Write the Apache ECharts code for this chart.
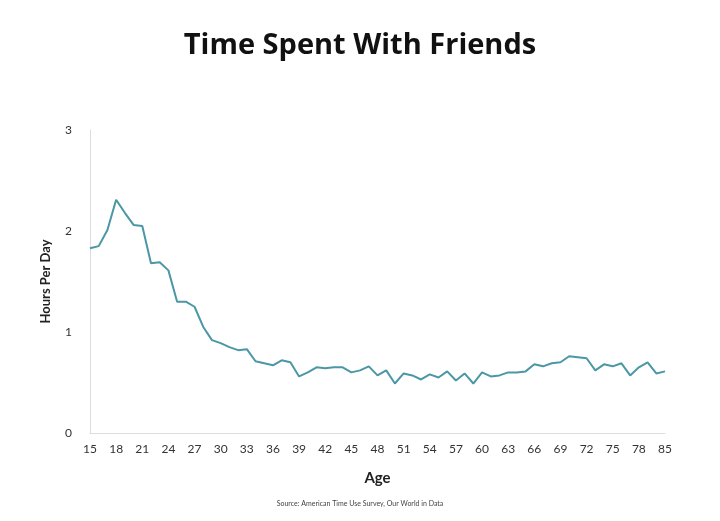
<!DOCTYPE html>
<html><head><meta charset="utf-8">
<script src="https://cdn.jsdelivr.net/npm/echarts@6/dist/echarts.min.js"></script>
<style>html,body{margin:0;background:#fff}#c{width:720px;height:521px}</style>
</head><body><div id="c"></div>
<script>
const ages = [];
for (let a = 15; a <= 80; a++) ages.push(String(a));
ages.push('85');
const hours = [1.83,1.85,2.01,2.31,2.18,2.06,2.05,1.68,1.69,1.61,1.30,1.30,1.25,1.05,0.92,0.89,0.85,0.82,0.83,0.71,0.69,0.67,0.72,0.70,0.56,0.60,0.65,0.64,0.65,0.65,0.60,0.62,0.66,0.57,0.62,0.49,0.59,0.57,0.53,0.58,0.55,0.61,0.52,0.59,0.49,0.60,0.56,0.57,0.60,0.60,0.61,0.68,0.66,0.69,0.70,0.76,0.75,0.74,0.62,0.68,0.66,0.69,0.57,0.65,0.70,0.59,0.61];
const yTicks = [0,1,2,3];
const font = 'Lato, "Open Sans", sans-serif';
const chart = echarts.init(document.getElementById('c'));
chart.setOption({
  backgroundColor:'#fff',
  title:[
    {text:'Time Spent With Friends',left:'center',top:26,textStyle:{fontFamily:'"Open Sans", Lato, sans-serif',fontSize:29,fontWeight:'bold',color:'#111'}},
    {text:'Source: American Time Use Survey, Our World in Data',left:'center',top:495,textStyle:{fontFamily:font,fontSize:7,fontWeight:'normal',color:'#444'}}
  ],
  grid:{left:90,right:55,top:130,bottom:88},
  xAxis:{type:'category',data:ages,boundaryGap:false,name:'Age',nameLocation:'middle',nameGap:38,
    nameTextStyle:{fontFamily:font,fontSize:15,color:'#222',fontWeight:'bold'},
    axisLine:{lineStyle:{color:'#ddd'}},axisTick:{show:false},
    axisLabel:{interval:2,fontFamily:font,fontSize:12,color:'#333',margin:10}},
  yAxis:{type:'value',min:yTicks[0],max:yTicks[yTicks.length-1],interval:1,name:'Hours Per Day',nameLocation:'middle',nameGap:38,
    nameTextStyle:{fontFamily:font,fontSize:13,color:'#222',fontWeight:'bold'},
    axisLine:{show:true,lineStyle:{color:'#ddd'}},axisTick:{show:false},splitLine:{show:false},
    axisLabel:{fontFamily:font,fontSize:12,color:'#333',margin:18}},
  series:[{type:'line',data:hours,showSymbol:false,lineStyle:{color:'#4b97a6',width:2},itemStyle:{color:'#4b97a6'}}]
});
</script></body></html>
